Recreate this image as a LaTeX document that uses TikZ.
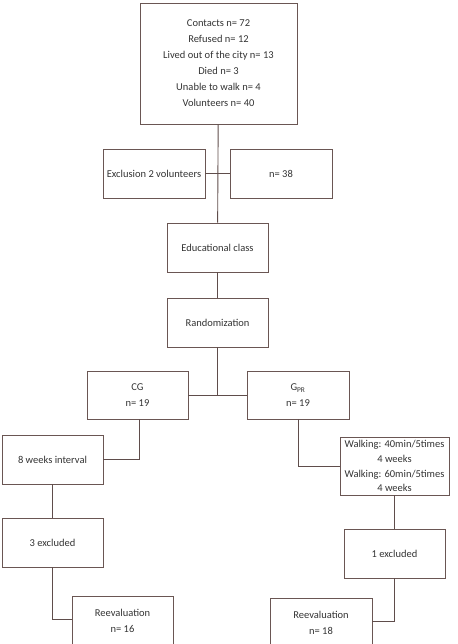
\documentclass[tikz,border=0pt]{standalone}
\usepackage{fontspec}
\setmainfont{Carlito}
\usepackage{xcolor}
\usepackage{tikz}
\usetikzlibrary{positioning}
\definecolor{boxline}{HTML}{6A5653}
\definecolor{boxtext}{HTML}{333333}
\tikzset{
  flowbox/.style={rectangle,draw=boxline,line width=0.9pt,align=center,inner sep=1pt,
    text=boxtext,font=\fontsize{10.5}{16}\selectfont},
  stepcol/.style={flowbox,minimum width=101pt,minimum height=49pt},
  linkedge/.style={draw=boxline!90!black,line width=0.9pt},
}

\begin{document}
\begin{tikzpicture}[x=1pt,y=-1pt]
  \useasboundingbox (0,0) rectangle (457,644);
  \clip (0,0) rectangle (457,644);
  \node[flowbox,minimum width=157pt,minimum height=121pt] (nContacts) at (218.5,63.5)
    {Contacts n= 72\\Refused n= 12\\Lived out of the city n= 13\\Died n= 3\\Unable to walk n= 4\\Volunteers n= 40};
  \node[stepcol,minimum width=102pt] (nExcl) at (154,173.5) {Exclusion 2 volunteers};
  \node[stepcol,minimum width=102pt] (nKept) at (281,173.5) {n= 38};
  \node[stepcol] (nClass) at (217.5,247.5) {Educational class};
  \node[stepcol] (nRand) at (217.5,322.5) {Randomization};
  \node[stepcol,minimum height=48pt] (nCG) at (137.5,395) {CG\\n= 19};
  \node[stepcol,minimum width=102pt,minimum height=48pt] (nGPR) at (298,395) {G\textsubscript{PR}\\n= 19};
  \node[stepcol] (nInterval) at (52.5,459.5) {8 weeks interval};
  \node[stepcol,minimum width=109pt,minimum height=58pt,font=\fontsize{10.5}{14.8}\selectfont] (nWalk) at (394.5,466)
    {Walking: 40min/5times\\4 weeks\\Walking: 60min/5times\\4 weeks};
  \node[stepcol] (nOutCG) at (52.5,542.5) {3 excluded};
  \node[stepcol] (nOutGPR) at (394.5,553.5) {1 excluded};
  \node[stepcol] (nReCG) at (122.5,620.5) {Reevaluation\\n= 16};
  \node[stepcol,minimum width=102pt] (nReGPR) at (321,622.5) {Reevaluation\\n= 18};
  \draw[linkedge] (nContacts) -- (nClass);
  \draw[linkedge] (nExcl) -- (nKept);
  \draw[linkedge] (nClass) -- (nRand);
  \draw[linkedge] (nRand.south) -- (nRand.south |- nCG.east);
  \draw[linkedge] (nCG) -- (nGPR);
  \draw[linkedge] ([xshift=1.5pt]nCG.south) |- (nInterval.east);
  \draw[linkedge] (nGPR.south) |- (nWalk.west);
  \draw[linkedge] (nInterval) -- (nOutCG);
  \draw[linkedge] (nOutCG.south) |- ([yshift=1.5pt]nReCG.west);
  \draw[linkedge] (nWalk) -- (nOutGPR);
  \draw[linkedge] (nOutGPR.south) |- ([yshift=1.5pt]nReGPR.east);
\end{tikzpicture}
\end{document}
